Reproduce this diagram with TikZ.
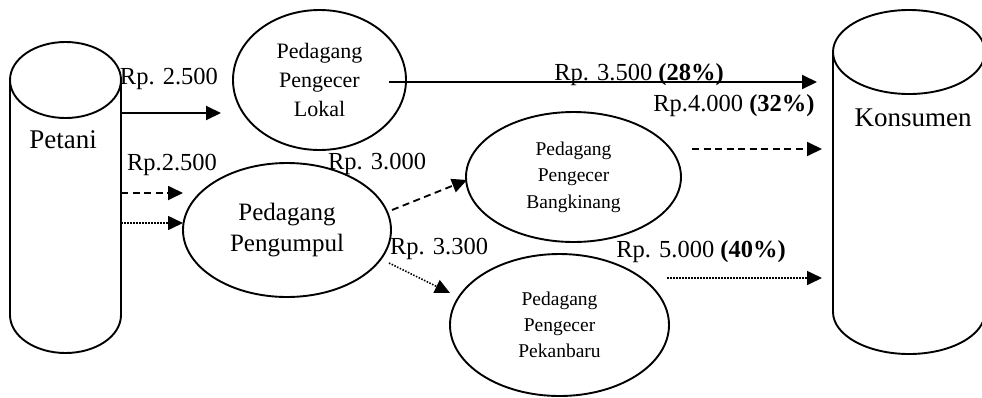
\documentclass[tikz,border=0pt]{standalone}
\usepackage{fontspec}
\setmainfont{Liberation Serif}
\usetikzlibrary{arrows.meta,shapes.geometric}
\begin{document}
\begin{tikzpicture}[x=1pt,y=-1pt,
  line width=1.9pt,
  tip/.style={-{Triangle[length=15pt,width=14pt]}},
  ell/.style={draw, ellipse, inner sep=0pt, align=center, line width=1.9pt},
  lbl/.style={anchor=base, inner sep=0pt, font=\fontsize{24.5}{29}\selectfont},
  bigname/.style={anchor=base, inner sep=0pt, font=\fontsize{27}{30}\selectfont},
  dsh/.style={dash pattern=on 7pt off 4.5pt, line width=1.8pt},
  dts/.style={dash pattern=on 1.5pt off 1.5pt, line width=1.6pt}]
\useasboundingbox (0,0) rectangle (982,397);

% Petani cylinder
\draw (10,80) -- (10,315) arc[start angle=180, end angle=0, x radius=55.5, y radius=38] -- (121,80);
\draw (65.5,80) ellipse [x radius=55.5, y radius=38];
\node[bigname] (petani) at (63,148) {Petani};

% Konsumen cylinder
\draw (833,52) -- (833,312) arc[start angle=180, end angle=0, x radius=76, y radius=42] -- (985,52);
\draw (909,52) ellipse [x radius=76, y radius=42];
\node[bigname] (konsumen) at (913,126) {Konsumen};

% traders
\node[ell, minimum width=173pt, minimum height=140pt, font=\fontsize{22}{29}\selectfont] (lokal) at (319.5,80) {Pedagang\\Pengecer\\Lokal};
\node[ell, minimum width=208pt, minimum height=134pt, font=\fontsize{25}{31}\selectfont] (pengumpul) at (287,230) {Pedagang\\Pengumpul};
\node[ell, minimum width=215pt, minimum height=130pt, font=\fontsize{19.5}{26.5}\selectfont] (bangkinang) at (573.5,177) {Pedagang\\Pengecer\\Bangkinang};
\node[ell, minimum width=219pt, minimum height=142pt, font=\fontsize{19.5}{26}\selectfont] (pekanbaru) at (559.5,325) {Pedagang\\Pengecer\\Pekanbaru};

% connector end points
\coordinate (a1s) at (121,113); \coordinate (a1e) at (221,113);
\coordinate (a2s) at (389,82);  \coordinate (a2e) at (817,82);
\coordinate (a3s) at (121,193); \coordinate (a3e) at (183,193);
\coordinate (a4s) at (121,223); \coordinate (a4e) at (183,223);
\coordinate (a5s) at (392,210); \coordinate (a5e) at (467,180);
\coordinate (a6s) at (389,263); \coordinate (a6e) at (450,293);
\coordinate (a7s) at (692,149); \coordinate (a7e) at (822,149);
\coordinate (a8s) at (667,278); \coordinate (a8e) at (822,278);

\draw[tip] (a1s) -- (a1e);
\draw[tip] (a2s) -- (a2e);
\draw[tip,dsh] (a3s) -- (a3e);
\draw[tip,dts] (a4s) -- (a4e);
\draw[tip,dsh] (a5s) -- (a5e);
\draw[tip,dts] (a6s) -- (a6e);
\draw[tip,dsh] (a7s) -- (a7e);
\draw[tip,dts] (a8s) -- (a8e);

% price labels
\node[lbl] (l1) at (169,84) {Rp. 2.500};
\node[lbl] (l2) at (172,170) {Rp.2.500};
\node[lbl] (l3) at (377,169) {Rp. 3.000};
\node[lbl] (l4) at (439,254) {Rp. 3.300};
\node[lbl] (l5) at (639,80) {Rp. 3.500 \textbf{(28\%)}};
\node[lbl] (l6) at (734,111) {Rp.4.000 \textbf{(32\%)}};
\node[lbl] (l7) at (701,257) {Rp. 5.000 \textbf{(40\%)}};
\end{tikzpicture}
\end{document}
